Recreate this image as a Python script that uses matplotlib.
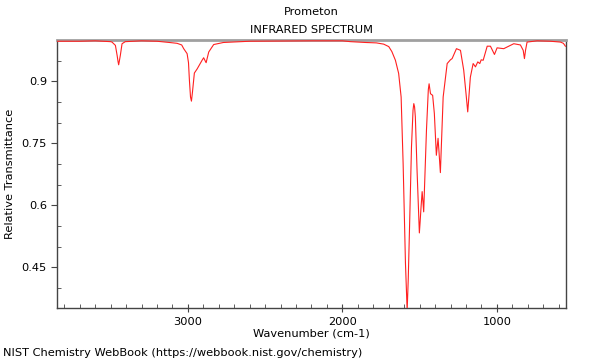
import matplotlib
matplotlib.use("Agg")
import matplotlib.pyplot as plt
from matplotlib.ticker import MultipleLocator

# values
wavenumber = [3845, 3700, 3600, 3500, 3491, 3469, 3458, 3452, 3448, 3444, 3437,
              3426, 3405, 3300, 3200, 3120, 3070, 3040, 3027, 3005, 2996, 2990,
              2983, 2977, 2970, 2958, 2940, 2908, 2898, 2882, 2865, 2833, 2770,
              2600, 2200, 2000, 1948, 1850, 1780, 1733, 1700, 1680, 1657, 1636, 1620,
              1607, 1592, 1581, 1574, 1566, 1553, 1543, 1538, 1533, 1528, 1517,
              1502, 1497, 1491, 1484, 1479, 1474, 1456, 1444, 1439, 1430, 1416,
              1405, 1392, 1381, 1375, 1366, 1360, 1348, 1322, 1301, 1290, 1262,
              1236, 1215, 1200, 1189, 1182, 1172, 1154, 1139, 1124, 1111, 1102,
              1089, 1063, 1042, 1016, 999, 956, 891, 848, 830, 822, 815, 805, 740,
              654, 589, 570, 557]
transmittance = [0.997, 0.997, 0.998, 0.996, 0.995, 0.987, 0.963, 0.948, 0.940, 0.948,
                 0.963, 0.991, 0.996, 0.998, 0.997, 0.994, 0.992, 0.988, 0.979, 0.967,
                 0.945, 0.902, 0.862, 0.852, 0.875, 0.920, 0.930, 0.951, 0.957, 0.945,
                 0.971, 0.989, 0.994, 0.997, 0.998, 0.998, 0.996, 0.994, 0.993, 0.990,
                 0.984, 0.972, 0.951, 0.919, 0.862, 0.700, 0.460, 0.345, 0.420, 0.540, 0.741,
                 0.830, 0.846, 0.838, 0.814, 0.685, 0.533, 0.560, 0.596, 0.633, 0.610,
                 0.584, 0.782, 0.880, 0.894, 0.870, 0.866, 0.822, 0.721, 0.762, 0.730,
                 0.679, 0.740, 0.862, 0.943, 0.952, 0.955, 0.979, 0.975, 0.927, 0.870,
                 0.826, 0.860, 0.910, 0.943, 0.935, 0.947, 0.943, 0.952, 0.951, 0.985,
                 0.985, 0.965, 0.981, 0.979, 0.991, 0.988, 0.975, 0.955, 0.975, 0.995,
                 0.998, 0.997, 0.995, 0.992, 0.985]

title = "Prometon"
subtitle = "INFRARED SPECTRUM"
footer = "NIST Chemistry WebBook (https://webbook.nist.gov/chemistry)"

plt.rcParams['font.family'] = 'DejaVu Sans'
plt.rcParams['font.size'] = 8.2

fig = plt.figure(figsize=(6, 3.6), dpi=100)
ax = fig.add_axes([57.3 / 600, 1 - 307.7 / 360, (565.7 - 57.3) / 600, (307.7 - 40) / 360])

ax.plot(wavenumber, transmittance, color='#ff2020', lw=0.8, zorder=3)

ax.set_xlim(3845, 555)
ax.set_ylim(0.352, 1.0)

ax.xaxis.set_major_locator(MultipleLocator(1000))
ax.xaxis.set_minor_locator(MultipleLocator(100))
ax.yaxis.set_minor_locator(MultipleLocator(0.05))
ax.set_yticks([0.45, 0.6, 0.75, 0.9])
ax.set_yticklabels(['0.45', '0.6', '0.75', '0.9'])

ax.tick_params(axis='x', which='major', direction='inout', length=6, color='#444444')
ax.tick_params(axis='x', which='minor', direction='in', length=3, color='#444444')
ax.tick_params(axis='y', which='major', direction='out', length=4, color='#444444')
ax.tick_params(axis='y', which='minor', direction='in', length=3, color='#444444')

for side in ['left', 'right', 'bottom']:
    ax.spines[side].set_color('#444444')
    ax.spines[side].set_linewidth(1.0)
ax.spines['top'].set_color('#a0a0a0')
ax.spines['top'].set_linewidth(2.0)

ax.set_xlabel('Wavenumber (cm-1)', labelpad=1)
ax.set_ylabel('Relative Transmittance', labelpad=5)

fig.text(311.5 / 600, 1 - 12 / 360, title, ha='center', va='center')
fig.text(311.5 / 600, 1 - 30 / 360, subtitle, ha='center', va='center')
fig.text(3 / 600, 1 - 353 / 360, footer, ha='left', va='center')

fig.savefig('out.png', dpi=100)
